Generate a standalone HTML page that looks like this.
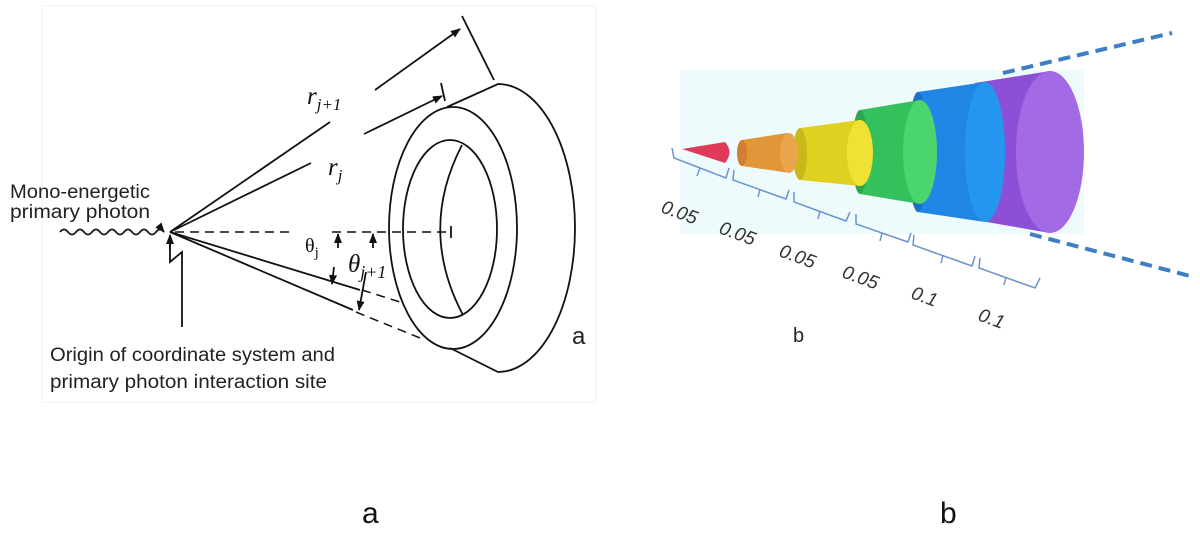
<!DOCTYPE html>
<html><head><meta charset="utf-8"><style>
html,body{margin:0;padding:0;background:#fff;}
svg{display:block;}
</style></head><body>
<svg width="1200" height="535" viewBox="0 0 1200 535" xmlns="http://www.w3.org/2000/svg">
<defs>
<marker id="ah" markerWidth="10" markerHeight="8" refX="9" refY="4" orient="auto" markerUnits="userSpaceOnUse">
<path d="M0,0 L10,4 L0,8 z" fill="#111"/></marker>
</defs>
<rect x="42" y="6" width="554" height="396" fill="#fff" stroke="#f0f0f0"/>
<g stroke="#111" stroke-width="1.8" fill="none">
<path d="M60,232 q4,-5 8,0 t8,0 t8,0 t8,0 t8,0 t8,0 t8,0 t8,0 t8,0 t8,0 t8,0 t8,0 t8,0" marker-end="url(#ah)"/>
<line x1="170" y1="232" x2="330" y2="122"/>
<line x1="170" y1="232" x2="311" y2="163"/>
<line x1="170" y1="232" x2="360" y2="290"/>
<line x1="170" y1="232" x2="353" y2="310"/>
<g stroke-dasharray="9,6" stroke-width="1.5">
<line x1="175" y1="232" x2="295" y2="232"/>
<line x1="332" y1="232" x2="451" y2="232"/>
<line x1="362" y1="290" x2="400" y2="302"/>
<line x1="356" y1="312" x2="425" y2="340"/>
</g>
<line x1="451" y1="226" x2="451" y2="238"/>
<line x1="375" y1="90" x2="460" y2="29" marker-end="url(#ah)"/>
<line x1="462" y1="16" x2="494" y2="80"/>
<line x1="364" y1="134" x2="442" y2="96" marker-end="url(#ah)"/>
<line x1="441" y1="83" x2="445" y2="101"/>
<line x1="338" y1="248" x2="338" y2="234" marker-end="url(#ah)"/>
<line x1="334" y1="267" x2="332" y2="284" marker-end="url(#ah)"/>
<line x1="373" y1="248" x2="373" y2="234" marker-end="url(#ah)"/>
<line x1="366" y1="272" x2="359" y2="310" marker-end="url(#ah)"/>
<polyline points="182,327 182,252 170,262 170,240" />
<line x1="170" y1="250" x2="170" y2="235" marker-end="url(#ah)"/>
<ellipse cx="453" cy="228" rx="64" ry="121"/>
<ellipse cx="450" cy="229" rx="47" ry="89"/>
<path d="M462,145 Q418,230 463,315"/>
<path d="M447,107 L498,84 A77,144 0 0 1 498,372 L450,348"/>
</g>
<g font-family="Liberation Sans, sans-serif" font-size="19" fill="#222">
<text x="10" y="198" textLength="140" lengthAdjust="spacingAndGlyphs">Mono-energetic</text>
<text x="10" y="218" textLength="140" lengthAdjust="spacingAndGlyphs">primary photon</text>
<text x="50" y="361" textLength="285" lengthAdjust="spacingAndGlyphs">Origin of coordinate system and</text>
<text x="50" y="388" textLength="277" lengthAdjust="spacingAndGlyphs">primary photon interaction site</text>
<text x="572" y="344" font-size="24">a</text>
</g>
<g font-family="Liberation Serif, serif" fill="#111">
<text x="307" y="104" font-size="25" font-style="italic">r<tspan font-size="17" dy="6">j+1</tspan></text>
<text x="328" y="175" font-size="25" font-style="italic">r<tspan font-size="17" dy="6">j</tspan></text>
<text x="305" y="252" font-size="20">θ<tspan font-size="15" dy="5">j</tspan></text>
<text x="348" y="272" font-size="25" font-style="italic">θ<tspan font-size="18" dy="6">j+1</tspan></text>
</g>
<rect x="680" y="70" width="404" height="164" fill="#eefbfc"/>
<g stroke="#3f7ec4" stroke-width="4" stroke-dasharray="12,7">
<line x1="1003" y1="73" x2="1172" y2="33"/>
<line x1="1030" y1="234" x2="1190" y2="276"/>
</g>
<path d="M975,83 L1050,71 Q1090,150 1050,233 L975,220 Z" fill="#8c4fd6"/>
<ellipse cx="1050" cy="152" rx="34" ry="81" fill="#a36ae6"/>
<ellipse cx="975" cy="152" rx="12" ry="68" fill="#7c40c4"/>
<path d="M918,92 L985,82 L985,222 L918,212 Z" fill="#1f86e6"/>
<ellipse cx="985" cy="152" rx="20" ry="70" fill="#2596f0"/>
<ellipse cx="918" cy="152" rx="10" ry="60" fill="#1a6fc8"/>
<path d="M860,110 L920,100 L920,204 L860,194 Z" fill="#34c05a"/>
<ellipse cx="920" cy="152" rx="17" ry="52" fill="#4bd66d"/>
<ellipse cx="860" cy="152" rx="8" ry="42" fill="#2aa650"/>
<path d="M800,128 L860,120 L860,186 L800,180 Z" fill="#e0d020"/>
<ellipse cx="860" cy="153" rx="13" ry="33" fill="#f0e235"/>
<ellipse cx="800" cy="154" rx="7" ry="26" fill="#c9b81a"/>
<path d="M742,140 L787,133 L790,173 L742,166 Z" fill="#e2963a"/>
<ellipse cx="789" cy="153" rx="9" ry="20" fill="#eba54c"/>
<ellipse cx="742" cy="153" rx="5" ry="13" fill="#d08030"/>
<path d="M682,149 L725,142 Q734,152 725,163 Z" fill="#e03a5a"/>
<g stroke="#6b93cf" stroke-width="1.5" fill="none">
<path d="M672,148 L674,158 L726,178 L729,168"/>
<line x1="700" y1="168" x2="697" y2="176"/>
<path d="M734,170 L733,180 L786,199 L789,190"/>
<line x1="760" y1="189" x2="758" y2="197"/>
<path d="M794,192 L794,202 L846,221 L850,212"/>
<line x1="820" y1="211" x2="818" y2="219"/>
<path d="M856,214 L856,224 L908,242 L911,233"/>
<line x1="882" y1="233" x2="880" y2="241"/>
<path d="M914,235 L913,245 L972,266 L975,256"/>
<line x1="943" y1="255" x2="941" y2="263"/>
<path d="M980,258 L979,268 L1035,288 L1040,278"/>
<line x1="1006" y1="277" x2="1004" y2="285"/>
</g>
<g font-family="Liberation Sans, sans-serif" font-size="19" fill="#333" font-style="italic">
<text transform="translate(660,212) rotate(20)">0.05</text>
<text transform="translate(718,233) rotate(20)">0.05</text>
<text transform="translate(778,256) rotate(20)">0.05</text>
<text transform="translate(841,277) rotate(20)">0.05</text>
<text transform="translate(910,298) rotate(20)">0.1</text>
<text transform="translate(977,320) rotate(20)">0.1</text>
</g>
<text x="793" y="342" font-family="Liberation Sans, sans-serif" font-size="20" fill="#222">b</text>
<text x="362" y="523" font-family="Liberation Sans, sans-serif" font-size="30" fill="#111">a</text>
<text x="940" y="523" font-family="Liberation Sans, sans-serif" font-size="30" fill="#111">b</text>
</svg>
</body></html>
